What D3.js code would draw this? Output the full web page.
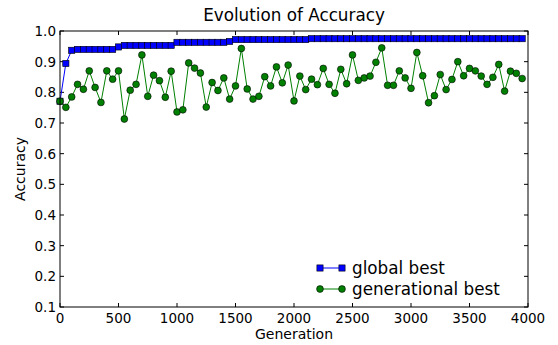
<!DOCTYPE html>
<html><head><meta charset="utf-8">
<script src="https://cdn.jsdelivr.net/npm/d3@7"></script>
<style>body{margin:0;background:#fff}svg{display:block}text{font-family:"DejaVu Sans",sans-serif;fill:#000}</style>
</head><body><svg id="c" width="558" height="345"></svg>
<script>
const generations = [0,50,100,150,200,250,300,350,400,450,500,550,600,650,700,750,800,850,900,950,
1000,1050,1100,1150,1200,1250,1300,1350,1400,1450,1500,1550,1600,1650,1700,1750,1800,1850,1900,1950,
2000,2050,2100,2150,2200,2250,2300,2350,2400,2450,2500,2550,2600,2650,2700,2750,2800,2850,2900,2950,
3000,3050,3100,3150,3200,3250,3300,3350,3400,3450,3500,3550,3600,3650,3700,3750,3800,3850,3900,3950];
const globalBest = [0.771,0.894,0.937,0.940,0.940,0.940,0.940,0.940,0.940,0.940,0.948,0.953,0.953,0.953,0.953,0.953,0.953,0.953,0.953,0.953,
0.963,0.963,0.963,0.963,0.963,0.963,0.963,0.963,0.963,0.966,0.972,0.972,0.972,0.972,0.972,0.972,0.972,0.972,0.972,0.972,
0.972,0.972,0.972,0.975,0.975,0.975,0.975,0.975,0.975,0.975,0.975,0.975,0.975,0.975,0.975,0.975,0.975,0.975,0.975,0.975,
0.975,0.975,0.975,0.975,0.975,0.975,0.975,0.975,0.975,0.975,0.975,0.975,0.975,0.975,0.975,0.975,0.975,0.975,0.975,0.975];
const generationalBest = [0.771,0.751,0.785,0.826,0.810,0.870,0.816,0.767,0.870,0.843,0.870,0.713,0.807,0.826,0.922,0.787,0.856,0.838,0.784,0.869,
0.736,0.743,0.896,0.879,0.863,0.752,0.832,0.806,0.847,0.778,0.821,0.943,0.811,0.778,0.787,0.851,0.821,0.883,0.831,0.889,
0.772,0.853,0.809,0.843,0.825,0.878,0.826,0.797,0.875,0.828,0.922,0.839,0.847,0.853,0.898,0.945,0.823,0.823,0.870,0.847,
0.813,0.930,0.854,0.766,0.789,0.858,0.809,0.842,0.900,0.854,0.878,0.870,0.853,0.826,0.849,0.891,0.804,0.869,0.862,0.845];
const xTicks = [0,500,1000,1500,2000,2500,3000,3500,4000];
const yTicks = [0.1,0.2,0.3,0.4,0.5,0.6,0.7,0.8,0.9,1.0];
const seriesNames = ["global best","generational best"];
const titleText = "Evolution of Accuracy";
const xLabel = "Generation", yLabel = "Accuracy";

const L=60,R=528,T=31,B=307;
const svg=d3.select("#c");
const x=d3.scaleLinear().domain([0,4000]).range([L,R]);
const y=d3.scaleLinear().domain([0.1,1.0]).range([B,T]);

const g=svg.append("g");
const tl=4;
xTicks.forEach(t=>{
  g.append("line").attr("x1",x(t)).attr("x2",x(t)).attr("y1",B).attr("y2",B-tl).attr("stroke","#000");
  g.append("line").attr("x1",x(t)).attr("x2",x(t)).attr("y1",T).attr("y2",T+tl).attr("stroke","#000");
  g.append("text").attr("x",x(t)).attr("y",B+16).attr("text-anchor","middle").attr("font-size",13.5).text(t);
});
yTicks.forEach(t=>{
  g.append("line").attr("y1",y(t)).attr("y2",y(t)).attr("x1",L).attr("x2",L+tl).attr("stroke","#000");
  g.append("line").attr("y1",y(t)).attr("y2",y(t)).attr("x1",R).attr("x2",R-tl).attr("stroke","#000");
  g.append("text").attr("x",L-4).attr("y",y(t)).attr("dy","0.36em").attr("text-anchor","end").attr("font-size",13.5).text(d3.format(".1f")(t));
});

const line=d3.line().x(d=>x(d[0])).y(d=>y(d[1]));
const gb=generations.map((gn,i)=>[gn,globalBest[i]]);
const gen=generations.map((gn,i)=>[gn,generationalBest[i]]);
const plot=svg.append("g");
plot.append("path").attr("d",line(gb)).attr("fill","none").attr("stroke","#0000ff").attr("stroke-width",1);
const sq=6.2, cr=3.4;
plot.selectAll("rect.gb").data(gb).enter().append("rect").attr("x",d=>x(d[0])-sq/2).attr("y",d=>y(d[1])-sq/2)
  .attr("width",sq).attr("height",sq).attr("fill","#0000ff").attr("stroke","#000").attr("stroke-width",0.6);
plot.append("path").attr("d",line(gen)).attr("fill","none").attr("stroke","#008000").attr("stroke-width",1);
plot.selectAll("circle.gn").data(gen).enter().append("circle").attr("cx",d=>x(d[0])).attr("cy",d=>y(d[1]))
  .attr("r",cr).attr("fill","#008000").attr("stroke","#000").attr("stroke-width",0.6);

svg.append("rect").attr("x",L).attr("y",T).attr("width",R-L).attr("height",B-T).attr("fill","none").attr("stroke","#000").attr("stroke-width",1);

svg.append("text").attr("x",(L+R)/2).attr("y",21).attr("text-anchor","middle").attr("font-size",16.8).text(titleText);
svg.append("text").attr("x",(L+R)/2).attr("y",339).attr("text-anchor","middle").attr("font-size",14).text(xLabel);
svg.append("text").attr("transform",`translate(25,${(T+B)/2}) rotate(-90)`).attr("text-anchor","middle").attr("font-size",14).text(yLabel);

const lg=svg.append("g");
const ly=[268,289];
const colors=["#0000ff","#008000"];
seriesNames.forEach((n,i)=>{
  lg.append("line").attr("x1",320).attr("x2",342).attr("y1",ly[i]).attr("y2",ly[i]).attr("stroke",colors[i]).attr("stroke-width",1);
  [320,342].forEach(px=>{
    if(i===0) lg.append("rect").attr("x",px-sq/2).attr("y",ly[i]-sq/2).attr("width",sq).attr("height",sq).attr("fill",colors[i]).attr("stroke","#000").attr("stroke-width",0.6);
    else lg.append("circle").attr("cx",px).attr("cy",ly[i]).attr("r",cr).attr("fill",colors[i]).attr("stroke","#000").attr("stroke-width",0.6);
  });
  lg.append("text").attr("x",352).attr("y",ly[i]).attr("dy","0.36em").attr("font-size",16.8).text(n);
});
</script></body></html>
